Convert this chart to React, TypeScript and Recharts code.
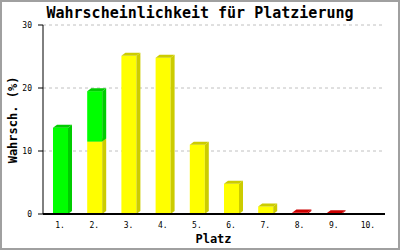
import React from 'react';
import { BarChart, Bar, XAxis, YAxis, CartesianGrid } from 'recharts';

const places = ['1.', '2.', '3.', '4.', '5.', '6.', '7.', '8.', '9.', '10.'];
const yellowVals = [0, 11.5, 25.1, 24.8, 11.0, 4.8, 1.2, 0, 0, 0];
const greenVals = [13.7, 8.0, 0, 0, 0, 0, 0, 0, 0, 0];
const redVals = [0, 0, 0, 0, 0, 0, 0, 0.25, 0.1, 0];
const yTicks = [0, 10, 20, 30];

const data = places.map((p, i) => ({
  place: p,
  yellow: yellowVals[i],
  green: greenVals[i],
  red: redVals[i],
}));

const DX = 4;
const DY = 3;
const MONO = '"DejaVu Sans Mono", "Liberation Mono", monospace';

const make3D = (front: string, dark: string) => (props: any) => {
  const { x, y, width, height } = props;
  if (!(height > 0.01)) return <g />;
  const b = y + height;
  const r = x + width;
  return (
    <g>
      <rect x={x} y={y} width={width} height={height} fill={front} />
      <polygon points={`${r},${y} ${r + DX},${y - DY} ${r + DX},${b - DY} ${r},${b}`} fill={dark} />
      <polygon points={`${x},${y} ${x + DX},${y - DY} ${r + DX},${y - DY} ${r},${y}`} fill={dark} />
    </g>
  );
};

const YellowShape = make3D('#ffff00', '#cccc00');
const GreenShape = make3D('#00ff00', '#00cc00');
const RedShape = make3D('#ff0000', '#cc0000');

export default function App() {
  return (
    <div style={{ position: 'absolute', left: 0, top: 0, width: 400, height: 250, background: '#fff' }}>
      <BarChart
        width={400}
        height={250}
        data={data}
        margin={{ top: 25, right: 15, bottom: 0, left: 0 }}
        barCategoryGap={0}
      >
        <CartesianGrid yAxisId="l" vertical={false} stroke="#c0c0c0" strokeDasharray="3 3" />
        <XAxis
          dataKey="place"
          height={36}
          tickLine={false}
          interval={0}
          axisLine={{ stroke: '#000', strokeWidth: 2 }}
          tick={{ fill: '#000', fontSize: 8, fontFamily: MONO }}
          tickMargin={2}
        />
        <YAxis
          yAxisId="l"
          width={43}
          domain={[0, 30]}
          ticks={yTicks}
          tickSize={5}
          tickMargin={6}
          axisLine={{ stroke: '#000' }}
          tickLine={{ stroke: '#000' }}
          tick={{ fill: '#000', fontSize: 8, fontFamily: MONO }}
        />
        <YAxis
          yAxisId="r"
          orientation="right"
          width={0}
          domain={[0, 30]}
          tick={false}
          tickLine={false}
          axisLine={{ stroke: '#000' }}
        />
        <Bar yAxisId="l" dataKey="yellow" stackId="a" barSize={15} shape={YellowShape} isAnimationActive={false} />
        <Bar yAxisId="l" dataKey="green" stackId="a" barSize={15} shape={GreenShape} isAnimationActive={false} />
        <Bar yAxisId="l" dataKey="red" stackId="a" barSize={15} shape={RedShape} isAnimationActive={false} />
      </BarChart>
      <svg width={400} height={250} style={{ position: 'absolute', left: 0, top: 0, pointerEvents: 'none' }}>
        <text x={200} y={18} textAnchor="middle" fontFamily={MONO} fontWeight="bold" fontSize={15} fill="#000">
          Wahrscheinlichkeit für Platzierung
        </text>
        <text x={213.5} y={243} textAnchor="middle" fontFamily={MONO} fontWeight="bold" fontSize={12} fill="#000">
          Platz
        </text>
        <text
          x={0}
          y={0}
          transform="translate(17,120) rotate(-90)"
          textAnchor="middle"
          fontFamily={MONO}
          fontWeight="bold"
          fontSize={12}
          fill="#000"
        >
          Wahrsch. (%)
        </text>
        <rect x={1} y={1} width={398} height={248} fill="none" stroke="#a0a0a0" strokeWidth={2} />
      </svg>
    </div>
  );
}
